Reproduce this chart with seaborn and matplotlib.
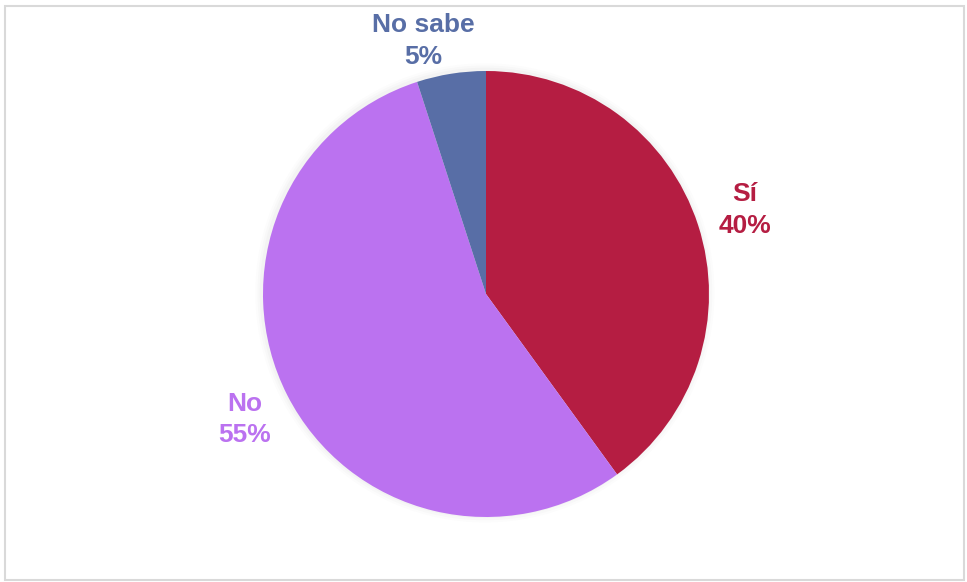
import numpy as np
import matplotlib
matplotlib.use("Agg")
import matplotlib.pyplot as plt
import seaborn as sns
from matplotlib.patches import Rectangle, Circle

sns.set_theme(style="white")
plt.rcParams["font.family"] = ["Liberation Sans", "DejaVu Sans"]

categories = ["Sí", "No", "No sabe"]
shares = [40, 55, 5]
colors = ["#B51D42", "#BB72F0", "#586EA6"]
label_dist = [1.22, 1.22, 1.17]
label_shift = [0, 0.5, 5]  # degrees of angular nudge per label

fig = plt.figure(figsize=(9.67, 5.82), dpi=100)
ax = fig.add_axes([0, 0, 1, 1])

# faint halo behind the pie
for r, a in [(1.03, 0.012), (1.02, 0.015), (1.01, 0.02)]:
    ax.add_patch(Circle((-0.005, 0.005), r, color="black", alpha=a,
                        lw=0, zorder=0))

wedges, _ = ax.pie(shares, colors=colors, startangle=90, counterclock=False,
                   radius=1.0, center=(0, 0),
                   wedgeprops=dict(linewidth=0, zorder=2))

for w, cat, val, col, d, s in zip(wedges, categories, shares, colors,
                                  label_dist, label_shift):
    mid = np.deg2rad((w.theta1 + w.theta2) / 2 + s)
    ax.text(d * np.cos(mid), d * np.sin(mid), f"{cat}\n{val}%",
            ha="center", va="center", color=col, fontsize=19,
            fontweight="bold", linespacing=1.4, zorder=3)

ax.set_aspect("equal")
ax.set_xlim(-486 / 223, (967 - 486) / 223)
ax.set_ylim(-(582 - 294) / 223, 294 / 223)
ax.axis("off")

# light frame around the chart area
fig.patches.append(Rectangle((5 / 967, 2 / 582), 959 / 967, 574 / 582,
                             transform=fig.transFigure, fill=False,
                             edgecolor="#D9D9D9", linewidth=1.5))

fig.savefig("out.png", dpi=100, facecolor="white")
